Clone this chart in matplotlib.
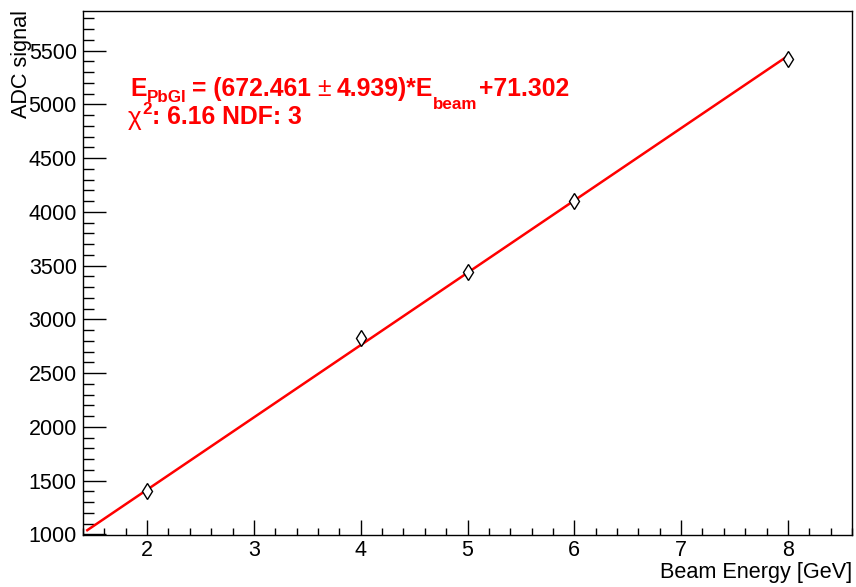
import matplotlib
matplotlib.use("Agg")
import matplotlib.pyplot as plt
import numpy as np
from matplotlib.ticker import MultipleLocator
from matplotlib.transforms import IdentityTransform

# ---- data ----
energy = [2, 4, 5, 6, 8]
adc = [1401, 2827, 3438, 4102, 5425]
fit_slope = 672.461
fit_slope_err = 4.939
fit_intercept = 71.302
fit_range = [1.44, 8.0]
chi2 = 6.16
ndf = 3
x_limits = [1.4, 8.6]
y_limits = [995, 5868]
x_major = [2, 3, 4, 5, 6, 7, 8]
y_major = [1000, 1500, 2000, 2500, 3000, 3500, 4000, 4500, 5000, 5500]

W, H = 856, 587
fig = plt.figure(figsize=(W / 100, H / 100), dpi=100)
fig.patch.set_facecolor("white")
ax = fig.add_axes([83 / W, (H - 535) / H, (852 - 83) / W, (535 - 11) / H])

FONT = "Liberation Sans"

xf = np.linspace(fit_range[0], fit_range[1], 200)
ax.plot(xf, fit_slope * xf + fit_intercept, color="#ff0000", lw=1.8, zorder=2)
ax.plot(energy, adc, linestyle="none", marker="d", markersize=8.5,
        markerfacecolor="white", markeredgecolor="black", markeredgewidth=1.0, zorder=3)

ax.set_xlim(*x_limits)
ax.set_ylim(*y_limits)
ax.set_xticks(x_major)
ax.set_yticks(y_major)
ax.xaxis.set_minor_locator(MultipleLocator(0.2))
ax.yaxis.set_minor_locator(MultipleLocator(100))

for sp in ax.spines.values():
    sp.set_linewidth(1.0)
    sp.set_color("black")

ax.tick_params(axis="both", which="both", direction="in", top=False, right=False,
               color="black", width=1.0)
ax.tick_params(axis="y", which="major", length=16.5, pad=4.5)
ax.tick_params(axis="y", which="minor", length=8)
ax.tick_params(axis="x", which="major", length=10.8, pad=3.5)
ax.tick_params(axis="x", which="minor", length=5.4)
for lab in ax.get_xticklabels() + ax.get_yticklabels():
    lab.set_fontfamily(FONT)
    lab.set_fontsize(15.5)

# axis titles
fig.text(852, H - 578, "Beam Energy [GeV]", transform=IdentityTransform(),
         ha="right", va="baseline", fontsize=15.6, family=FONT)
fig.text(27.5, H - 10, "ADC signal", transform=IdentityTransform(), rotation=90,
         rotation_mode="anchor", ha="right", va="baseline", fontsize=15.6, family=FONT)

renderer = fig.canvas.get_renderer()


def seq(x, y, pieces):
    for txt, px, weight, dy, gap in pieces:
        x += gap
        t = fig.text(x, y + dy, txt, transform=IdentityTransform(), fontsize=px * 0.72,
                     fontweight=weight, family=FONT, color="#ff0000",
                     ha="left", va="baseline")
        x = t.get_window_extent(renderer).x1


big, small = 24.7, 17.0
seq(130, H - 96, [
    ("E", big, "bold", 0, 0),
    ("PbGl", small, "bold", -5.7, 0.5),
    ("= (%.3f" % fit_slope, big, "bold", 0, 5),
    ("\u00b1", big, "normal", 0, 6),
    ("%.3f)*E" % fit_slope_err, big, "bold", 0, 6),
    ("beam", small, "bold", -13, 0.5),
    ("+%.3f" % fit_intercept, big, "bold", 0, 1),
])
seq(128, H - 124.5, [
    ("\u03c7", 26, "normal", 0, 0),
    ("2", small, "bold", 10, 1),
    (": %.2f NDF: %d" % (chi2, ndf), big, "bold", 0, 0.5),
])

fig.savefig("out.png", dpi=100)
